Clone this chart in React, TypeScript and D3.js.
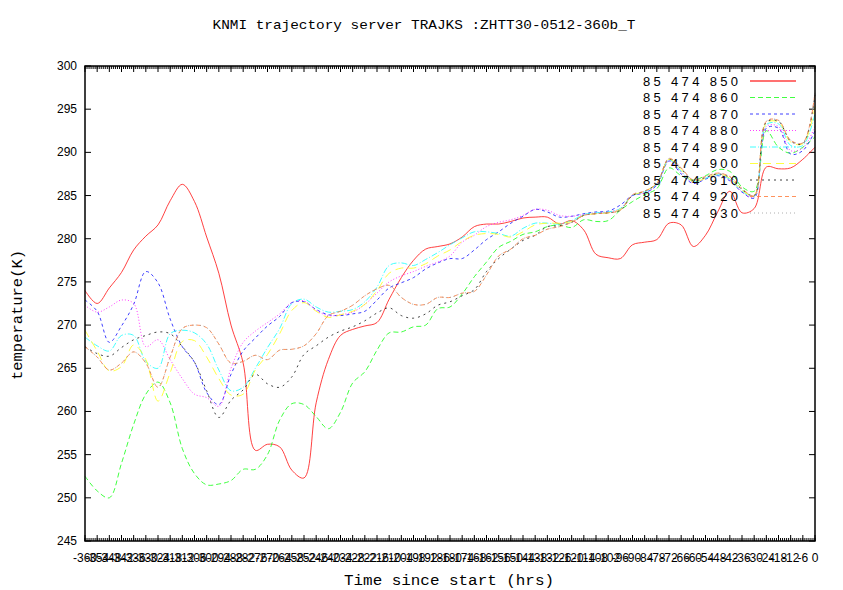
import React from 'react';
import * as d3 from 'd3';

// hours since start, one reading every 6 h
const hours = d3.range(-360, 1, 6);

const t850 = [274.0, 272.5, 274.3, 276.1, 278.7, 280.3, 281.6, 284.4, 286.3, 284.3, 280.2, 276.0, 270.0, 265.6, 255.5, 256.2, 255.9, 253.2, 252.3, 261.0, 266.0, 268.8, 269.5, 269.9, 270.3, 273.0, 275.5, 277.5, 278.8, 279.1, 279.4, 280.2, 281.4, 281.7, 281.7, 282.0, 282.4, 282.5, 282.5, 281.7, 282.1, 281.0, 278.2, 277.8, 277.7, 279.3, 279.6, 279.9, 281.8, 281.6, 279.1, 280.4, 283.1, 285.5, 283.0, 283.5, 288.3, 288.1, 288.2, 289.2, 290.6];
const t860 = [252.5, 250.8, 250.0, 254.0, 258.5, 262.0, 263.4, 261.0, 255.7, 252.8, 251.5, 251.6, 252.0, 253.3, 253.3, 255.0, 259.0, 260.9, 260.8, 259.4, 258.0, 259.9, 263.3, 264.6, 267.1, 269.1, 269.2, 269.8, 270.0, 271.9, 272.1, 273.6, 275.6, 277.3, 279.0, 279.7, 280.5, 280.8, 281.4, 281.6, 281.3, 282.2, 282.0, 282.1, 283.3, 284.3, 285.1, 285.8, 288.2, 287.3, 286.8, 287.3, 288.0, 287.8, 286.0, 285.5, 292.5, 290.6, 289.9, 290.6, 291.8];
const t870 = [272.9, 271.6, 268.0, 269.9, 272.4, 276.2, 274.9, 270.7, 267.5, 265.7, 262.2, 260.8, 264.3, 267.0, 268.5, 269.9, 271.0, 272.6, 272.7, 271.8, 271.2, 271.1, 271.3, 271.6, 272.9, 274.3, 274.9, 275.5, 276.5, 277.2, 277.7, 277.7, 278.7, 279.9, 280.8, 281.8, 282.6, 283.4, 283.1, 282.5, 282.6, 282.9, 283.1, 283.2, 283.9, 285.0, 285.3, 286.2, 289.0, 287.5, 286.4, 286.9, 287.3, 286.7, 285.4, 284.7, 292.8, 292.8, 289.8, 290.2, 292.5];
const t880 = [272.3, 271.5, 272.1, 272.9, 272.5, 267.5, 268.3, 266.0, 263.8, 262.0, 261.6, 260.6, 265.0, 268.0, 269.3, 270.3, 271.3, 272.6, 272.8, 271.7, 271.1, 271.2, 271.5, 272.4, 273.7, 275.0, 275.7, 276.2, 276.8, 277.3, 278.0, 279.6, 280.4, 281.4, 281.9, 282.2, 282.7, 283.4, 283.3, 282.7, 282.6, 282.8, 283.0, 283.1, 283.5, 285.0, 285.3, 286.2, 289.0, 287.7, 286.5, 287.0, 287.4, 286.8, 285.4, 284.8, 293.0, 293.0, 290.2, 290.5, 293.0];
const t890 = [268.6, 267.6, 267.0, 268.8, 268.8, 265.8, 265.0, 269.0, 269.4, 269.1, 267.8, 264.8, 262.4, 262.8, 265.0, 267.4, 269.6, 272.5, 273.0, 272.1, 271.5, 271.6, 271.8, 272.7, 274.4, 276.9, 277.2, 276.9, 277.6, 278.4, 279.3, 280.1, 280.8, 280.8, 280.6, 280.3, 281.2, 281.8, 281.8, 281.7, 282.1, 282.8, 283.0, 283.1, 283.5, 285.0, 285.4, 286.3, 289.1, 287.8, 286.6, 287.0, 287.4, 286.9, 285.5, 284.9, 293.2, 293.3, 290.8, 290.8, 294.5];
const t900 = [269.4, 267.0, 264.7, 265.2, 267.7, 266.0, 261.2, 264.5, 268.1, 268.2, 266.3, 263.8, 261.9, 262.0, 264.8, 266.6, 269.0, 271.7, 272.6, 271.6, 270.9, 271.2, 271.6, 272.4, 274.0, 276.0, 276.6, 276.6, 277.1, 278.0, 278.7, 279.7, 280.4, 280.6, 280.5, 280.2, 280.8, 281.6, 281.8, 281.8, 282.0, 282.7, 282.9, 283.0, 283.4, 285.0, 285.5, 286.4, 289.2, 288.0, 286.6, 287.0, 287.5, 287.0, 285.6, 285.0, 293.4, 293.5, 291.2, 291.0, 295.3];
const t910 = [267.5, 266.7, 266.4, 267.4, 268.3, 268.8, 269.2, 269.0, 267.5, 265.7, 262.4, 259.3, 261.3, 262.5, 264.3, 263.2, 262.8, 264.0, 266.6, 267.6, 268.6, 269.3, 269.8, 270.5, 271.4, 272.0, 271.1, 270.8, 271.3, 272.3, 272.7, 273.4, 274.1, 276.2, 277.7, 278.8, 279.8, 280.4, 281.4, 281.5, 281.9, 282.7, 282.9, 283.0, 283.3, 285.0, 285.5, 286.4, 289.2, 288.1, 286.7, 287.1, 287.5, 287.1, 285.7, 285.0, 293.5, 293.6, 291.3, 291.0, 296.7];
const t920 = [267.5, 266.3, 264.8, 265.6, 266.9, 265.6, 262.8, 266.3, 269.6, 270.0, 269.7, 267.8, 265.6, 265.8, 266.5, 266.0, 267.1, 267.2, 267.6, 269.0, 271.1, 271.6, 272.3, 273.4, 274.2, 274.6, 273.2, 272.4, 272.4, 273.2, 273.2, 273.7, 273.9, 275.8, 278.0, 278.8, 280.0, 280.4, 281.1, 281.4, 281.9, 282.7, 282.9, 283.0, 283.3, 285.1, 285.5, 286.4, 289.3, 288.2, 286.8, 287.2, 287.6, 287.2, 285.8, 285.0, 293.6, 293.7, 291.4, 291.1, 296.9];
const t930 = [267.5, 266.3, 264.8, 265.6, 266.9, 265.6, 262.8, 266.3, 269.6, 270.0, 269.7, 267.8, 265.6, 265.8, 266.5, 266.0, 267.1, 267.2, 267.6, 269.0, 271.1, 271.6, 272.3, 273.4, 274.2, 274.6, 273.2, 272.4, 272.4, 273.2, 273.2, 273.7, 273.9, 275.8, 278.0, 278.8, 280.0, 280.4, 281.1, 281.4, 281.9, 282.7, 282.9, 283.0, 283.3, 285.1, 285.5, 286.4, 289.3, 288.2, 286.8, 287.2, 287.6, 287.2, 285.8, 285.0, 293.6, 293.7, 291.4, 291.1, 296.9];

const labels = ['85 474 850', '85 474 860', '85 474 870', '85 474 880', '85 474 890', '85 474 900', '85 474 910', '85 474 920', '85 474 930'];
const series = [t850, t860, t870, t880, t890, t900, t910, t920, t930];

// gnuplot-ish line types
const colors = ['#ff2020', '#20ff20', '#2020ff', '#ff20ff', '#20ffff', '#ffff20', '#202020', '#ff7f40', '#a0a0a0'];
const dashes = [null, '5,3', '3,3', '1,2', '6,2,1,2', '8,5', '2,4', '4,3', '1,3'];

const W = 843;
const H = 590;
const left = 85;
const right = 815;
const top = 66;
const bottom = 541;

const App = () => {
  const x = d3.scaleLinear().domain([-360, 0]).range([left, right]);
  const y = d3.scaleLinear().domain([245, 300]).range([bottom, top]);

  const path = d3
    .line<number>()
    .x((_, i) => x(hours[i]))
    .y((d) => y(d))
    .curve(d3.curveCatmullRom);

  const majorX = d3.range(-360, 1, 6);
  const minorX = d3.range(-360, 1, 1);
  const yTicks = d3.range(245, 301, 5);
  const tickFont = '"Liberation Sans", sans-serif';
  const monoFont = '"Liberation Mono", "DejaVu Sans Mono", monospace';

  return (
    <svg
      width={W}
      height={H}
      style={{ position: 'absolute', left: 0, top: 0, background: '#fff' }}
    >
      <rect width={W} height={H} fill="#fff" />
      <text
        x={424}
        y={29}
        textAnchor="middle"
        fontFamily={monoFont}
        fontSize={13}
        textLength={423}
        lengthAdjust="spacingAndGlyphs"
      >
        KNMI trajectory server TRAJKS :ZHTT30-0512-360b_T
      </text>

      {/* ticks */}
      <g stroke="#000" strokeWidth={1}>
        {minorX.map((h) => (
          <g key={'m' + h}>
            <line x1={x(h)} x2={x(h)} y1={bottom} y2={bottom - 3} />
            <line x1={x(h)} x2={x(h)} y1={top} y2={top + 3} />
          </g>
        ))}
        {majorX.map((h) => (
          <g key={'M' + h}>
            <line x1={x(h)} x2={x(h)} y1={bottom} y2={bottom - 6} />
            <line x1={x(h)} x2={x(h)} y1={top} y2={top + 6} />
          </g>
        ))}
        {yTicks.map((v) => (
          <g key={'y' + v}>
            <line x1={left} x2={left + 6} y1={y(v)} y2={y(v)} />
            <line x1={right} x2={right - 6} y1={y(v)} y2={y(v)} />
          </g>
        ))}
      </g>

      {/* tick labels */}
      <g fontFamily={tickFont} fontSize={12} fill="#000">
        {yTicks.map((v) => (
          <text key={'yl' + v} x={77} y={y(v) + 4} textAnchor="end">
            {v}
          </text>
        ))}
        {majorX.map((h) => (
          <text key={'xl' + h} x={x(h)} y={562} textAnchor="middle">
            {h}
          </text>
        ))}
      </g>

      {/* series */}
      <g fill="none">
        {series.map((s, i) => (
          <path
            key={labels[i]}
            d={path(s) || ''}
            stroke={colors[i]}
            strokeWidth={1}
            strokeOpacity={0.85}
            strokeDasharray={dashes[i] || undefined}
          />
        ))}
      </g>

      {/* legend */}
      <g>
        {labels.map((l, i) => {
          const ly = 81 + i * 16.5;
          return (
            <g key={'lg' + l}>
              <text
                x={643}
                y={ly + 4.5}
                fontFamily={tickFont}
                fontSize={13}
                textLength={95}
                lengthAdjust="spacing"
              >
                {l}
              </text>
              <line
                x1={750}
                x2={796}
                y1={ly}
                y2={ly}
                stroke={colors[i]}
                strokeWidth={i === 0 ? 1.5 : 1}
                strokeOpacity={0.85}
                strokeDasharray={dashes[i] || undefined}
              />
            </g>
          );
        })}
      </g>

      <rect
        x={left}
        y={top}
        width={right - left}
        height={bottom - top}
        fill="none"
        stroke="#000"
        strokeWidth={1.5}
      />

      <text
        x={449}
        y={585}
        textAnchor="middle"
        fontFamily={monoFont}
        fontSize={14}
        textLength={210}
        lengthAdjust="spacingAndGlyphs"
      >
        Time since start (hrs)
      </text>
      <text
        transform={`translate(22, 315) rotate(-90)`}
        textAnchor="middle"
        fontFamily={monoFont}
        fontSize={14}
        textLength={130}
        lengthAdjust="spacingAndGlyphs"
      >
        temperature(K)
      </text>
    </svg>
  );
};

export default App;
